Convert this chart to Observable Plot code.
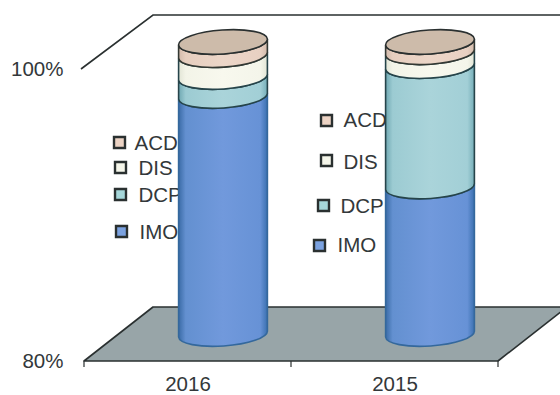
<!DOCTYPE html>
<html>
<head>
<meta charset="utf-8">
<script src="https://cdn.jsdelivr.net/npm/d3@7"></script>
<script src="https://cdn.jsdelivr.net/npm/@observablehq/plot@0.6"></script>
<style>
  html, body { margin: 0; padding: 0; background: #fff; }
  svg { display: block; }
</style>
</head>
<body>
<div id="chart"></div>
<script>
// Stacked share per year, bottom segment first; the value axis starts at 80%.
const years = ["2016", "2015"];
const seriesNames = ["IMO", "DCP", "DIS", "ACD"];
const imo = [96.3, 90.1];
const dcp = [1.3, 8.25];
const dis = [1.5, 0.95];
const acd = [0.9, 0.7];
const seriesValues = [imo, dcp, dis, acd];

const rows = seriesNames.flatMap((series, s) =>
  years.map((year, y) => ({series, year, value: seriesValues[s][y]}))
);

// Shading of each cylinder segment, edge to centre to edge.
const shades = {
  IMO: {swatch: "#7ba2e0", line: "#34689c", stops: ["#3a6ba6", "#6390d0", "#7199dc", "#6792d6", "#3a70b0"]},
  DCP: {swatch: "#a6d7da", line: "#26444a", stops: ["#6fa8b2", "#9ccbd2", "#aad4da", "#a2cfd6", "#75aeb8"]},
  DIS: {swatch: "#f5f6ea", line: "#26444a", stops: ["#e2e5d6", "#f3f4e8", "#f8f8ee", "#f4f5ea", "#e2e5d6"]},
  ACD: {swatch: "#ecd3c4", line: "#333833", stops: ["#d2baab", "#e6cebf", "#ecd6c8", "#e8d0c2", "#d2baab"]}
};
const lidFill = "#cdbbaa";
const floorFill = "#98a5a8";
const ink = "#2a3030";
const textColor = "#33383a";

const margin = {left: 84, right: 62, top: 69, bottom: 34};

// Chart-box depth of the pseudo-3D projection, and cylinder proportions.
const depth = {x: 69, y: -54};
const cyl = {rx: 44.5, ry: 12, tilt: -3.9};

// Left wall edge, back wall edge, floor and the tick marks between categories.
function chartBox(index, {x, y}) {
  const [x0, x1] = x.range();
  const y0 = y(80), y1 = y(100);
  const bw = (x1 - x0) / years.length;
  const g = d3.create("svg:g");
  g.append("path")
    .attr("d", `M${x0},${y0}L${x0 + depth.x},${y0 + depth.y}L${x1 + depth.x},${y0 + depth.y}L${x1},${y0}Z`)
    .attr("fill", floorFill).attr("stroke", ink).attr("stroke-width", 1.6).attr("stroke-linejoin", "round");
  g.append("path")
    .attr("d", `M${x0 - 3},${y1}L${x0 + depth.x},${y1 + depth.y}L${x1 + depth.x},${y1 + depth.y}`)
    .attr("fill", "none").attr("stroke", ink).attr("stroke-width", 1.6);
  d3.range(years.length + 1).forEach(i => {
    g.append("line")
      .attr("x1", x0 + i * bw).attr("x2", x0 + i * bw)
      .attr("y1", y0).attr("y2", y0 + 6)
      .attr("stroke", ink).attr("stroke-width", 1.2);
  });
  return g.node();
}

// Replaces each stacked bar with a cylinder segment, set back half the box depth.
function cylinders(index, {x, y}, values, dimensions, context) {
  const bw = (x.range()[1] - x.range()[0]) / years.length;
  const floorY = y(80);
  const t = cyl.tilt * Math.PI / 180;
  const ex = cyl.rx * Math.cos(t), ey = cyl.rx * Math.sin(t);
  const g = d3.create("svg:g");
  const defs = g.append("defs");
  for (const name of seriesNames) {
    const grad = defs.append("linearGradient").attr("id", `shade-${name}`);
    shades[name].stops.forEach((c, i) =>
      grad.append("stop").attr("offset", [0, 0.08, 0.5, 0.92, 1][i]).attr("stop-color", c));
  }
  for (const i of index) {
    const d = rows[i];
    const cx = x(d.year) + bw / 2 + depth.x / 2 + 1;
    const lo = Math.min(values.y1[i], floorY) + depth.y / 2;
    const hi = Math.min(values.y2[i], floorY) + depth.y / 2;
    const arc = `A${cyl.rx},${cyl.ry} ${cyl.tilt} 0`;
    g.append("path")
      .attr("d", `M${cx - ex},${lo - ey}${arc} 0 ${cx + ex},${lo + ey}L${cx + ex},${hi + ey}${arc} 1 ${cx - ex},${hi - ey}Z`)
      .attr("fill", `url(#shade-${d.series})`)
      .attr("stroke", shades[d.series].line).attr("stroke-width", 1.6);
    if (d.series === seriesNames[seriesNames.length - 1]) {
      g.append("ellipse")
        .attr("cx", cx).attr("cy", hi).attr("rx", cyl.rx).attr("ry", cyl.ry)
        .attr("transform", `rotate(${cyl.tilt} ${cx} ${hi})`)
        .attr("fill", lidFill).attr("stroke", ink).attr("stroke-width", 1.6);
    }
  }
  return g.node();
}

// One legend sits beside each cylinder; the entries are spaced unevenly.
const legendLayouts = [
  {IMO: [121, 231, 139, 232], DCP: [120, 194, 138, 195], DIS: [120, 167, 138, 168], ACD: [119, 142, 134, 143]},
  {IMO: [319, 245, 337, 245], DCP: [323, 205, 340, 206], DIS: [326, 160, 343, 162], ACD: [326, 120, 343, 120]}
];

const legendMarks = legendLayouts.flatMap(layout =>
  seriesNames.flatMap(name => {
    const [sx, sy, tx, ty] = layout[name];
    return [
      Plot.dot([name], {
        frameAnchor: "top-left", dx: sx - margin.left, dy: sy - margin.top, symbol: "square", r: 6.2,
        fill: shades[name].swatch, stroke: ink, strokeWidth: 2.4
      }),
      Plot.text([name], {
        text: d => d, frameAnchor: "top-left", dx: tx - margin.left, dy: ty - margin.top, textAnchor: "start",
        lineAnchor: "middle", fontSize: 20.5, fill: textColor
      })
    ];
  })
);

const chart = Plot.plot({
  width: 560,
  height: 395,
  marginLeft: margin.left,
  marginRight: margin.right,
  marginTop: margin.top,
  marginBottom: margin.bottom,
  style: {background: "#fff", fontFamily: "'Liberation Sans', Arial, sans-serif"},
  x: {type: "band", domain: years, padding: 0, label: null},
  y: {domain: [80, 100], label: null},
  marks: [
    chartBox,
    Plot.axisY({ticks: [80, 100], tickFormat: d => `${d}%`, tickSize: 0, tickPadding: 21, fontSize: 20.5, fill: textColor, label: null}),
    Plot.axisX({tickSize: 0, tickPadding: 15, fontSize: 20.5, fill: textColor, label: null}),
    legendMarks,
    Plot.barY(rows, {x: "year", y: "value", z: "series", render: cylinders})
  ]
});
document.getElementById("chart").append(chart);
</script>
</body>
</html>
